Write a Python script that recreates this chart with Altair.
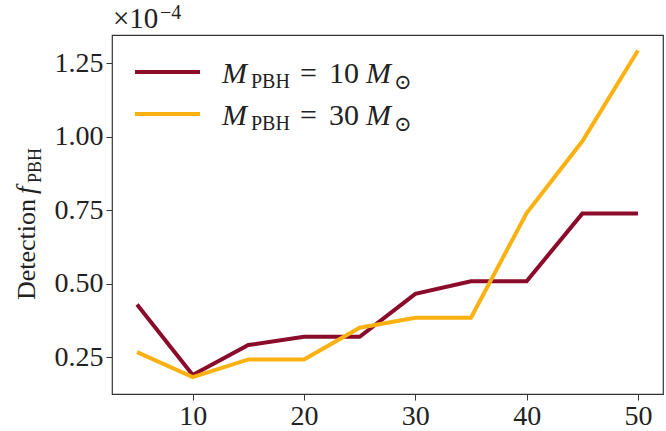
import altair as alt
import pandas as pd

# Mass bins along the horizontal axis
mass_bins = [5, 10, 15, 20, 25, 30, 35, 40, 45, 50]
# Detection f_PBH (in units of 1e-4) for the two PBH masses
f_pbh_m10 = [0.429, 0.189, 0.291, 0.319, 0.319, 0.465, 0.508, 0.508, 0.738, 0.738]
f_pbh_m30 = [0.267, 0.182, 0.242, 0.242, 0.350, 0.384, 0.384, 0.740, 0.984, 1.293]
series_names = ["M10", "M30"]
series_colors = ["#8b0b2b", "#fbb111"]
x_ticks = [10, 20, 30, 40, 50]
y_ticks = [0.25, 0.50, 0.75, 1.00, 1.25]

SERIF = "Liberation Serif, DejaVu Serif, serif"
INK = "#222222"

df = pd.concat(
    [
        pd.DataFrame({"mass": mass_bins, "f": f_pbh_m10, "series": series_names[0]}),
        pd.DataFrame({"mass": mass_bins, "f": f_pbh_m30, "series": series_names[1]}),
    ],
    ignore_index=True,
)

W, H = 551, 359

x_enc = alt.X(
    "mass:Q",
    scale=alt.Scale(domain=[2.75, 52.25], nice=False, zero=False),
    axis=alt.Axis(values=x_ticks, format="d", title=None, grid=False, domain=False,
                  tickSize=6, tickColor="#333333", tickWidth=1,
                  labelFont=SERIF, labelFontSize=28, labelColor=INK, labelPadding=2),
)
y_enc = alt.Y(
    "f:Q",
    scale=alt.Scale(domain=[0.1245, 1.3455], nice=False, zero=False),
    axis=alt.Axis(values=y_ticks, format=".2f", title=None, grid=False, domain=False,
                  tickSize=6, tickColor="#333333", tickWidth=1,
                  labelFont=SERIF, labelFontSize=28, labelColor=INK, labelPadding=3),
)

lines = alt.Chart(df).mark_line(strokeWidth=4, clip=True).encode(
    x=x_enc,
    y=y_enc,
    color=alt.Color("series:N", scale=alt.Scale(domain=series_names, range=series_colors), legend=None),
)

one = pd.DataFrame({"k": [0]})


def txt(text, x, y, size, italic=False, angle=0):
    return alt.Chart(one).mark_text(
        text=text, font=SERIF, fontSize=size, fontStyle="italic" if italic else "normal",
        align="left", baseline="alphabetic", angle=angle, color=INK,
    ).encode(x=alt.value(x), y=alt.value(y))


def swatch(y, color):
    return alt.Chart(one).mark_rule(strokeWidth=4, color=color).encode(
        x=alt.value(23), x2=alt.value(88), y=alt.value(y)
    )


def legend_row(base, number):
    return [
        txt("M", 110, base, 30, italic=True),
        txt("PBH", 139, base + 5, 20),
        txt("=", 188, base, 30),
        txt(number, 217, base, 30),
        txt("M", 254, base, 30, italic=True),
        txt("⊙", 282, base + 6, 21),
    ]


layers = [lines, swatch(37, series_colors[0]), swatch(79, series_colors[1])]
layers += legend_row(48, "10")
layers += legend_row(90, "30")

# Scale factor above the y axis
layers += [txt("×10", 1, -7, 29), txt("−4", 48, -16, 20)]

# Rotated y-axis title: "Detection f_PBH"
layers += [
    txt("Detection", -77, 265, 26, angle=270),
    txt("f", -77, 159, 27, italic=True, angle=270),
    txt("PBH", -71, 148, 18, angle=270),
]

chart = alt.layer(*layers).properties(
    width=W,
    height=H,
    autosize=alt.AutoSizeParams(type="none"),
    padding={"left": 112, "top": 35, "right": 3, "bottom": 37},
    background="white",
).configure_view(stroke="#333333", strokeWidth=1.2)

chart.save("out.html", embed_options={"renderer": "svg", "actions": False})
